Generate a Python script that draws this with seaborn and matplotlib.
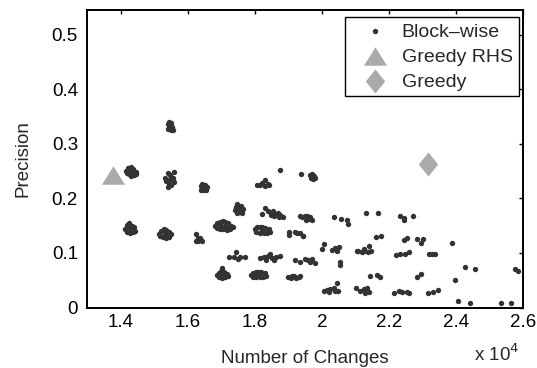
import matplotlib
matplotlib.use("Agg")
import matplotlib.pyplot as plt
import seaborn as sns
from matplotlib.ticker import FuncFormatter

sns.set_theme(style="white")
plt.rcParams["font.family"] = ["Liberation Sans", "DejaVu Sans"]

# ---- data ----
# Block-wise runs: (number of changes, precision)
blockwise_points = [
    # ~0.33
    (15400, 0.336), (15450, 0.340), (15510, 0.338), (15540, 0.331), (15480, 0.332),
    (15420, 0.327), (15500, 0.325), (15550, 0.326), (15440, 0.334),
    # ~0.25 at 1.43
    (14160, 0.250), (14220, 0.256), (14300, 0.257), (14380, 0.254), (14450, 0.249),
    (14400, 0.243), (14320, 0.241), (14240, 0.244), (14300, 0.249), (14180, 0.247), (14460, 0.245),
    # ~0.234 at 1.545
    (15330, 0.238), (15400, 0.246), (15460, 0.243), (15520, 0.236), (15580, 0.230),
    (15500, 0.224), (15430, 0.226), (15360, 0.231), (15450, 0.234), (15410, 0.221), (15560, 0.238),
    (15597, 0.249),
    # ~0.22 at 1.65
    (16390, 0.222), (16440, 0.227), (16520, 0.225), (16590, 0.221), (16480, 0.216),
    (16410, 0.215), (16550, 0.216), (16500, 0.221),
    # ~0.225 at 1.82
    (18066, 0.225), (18215, 0.228), (18295, 0.233), (18313, 0.222), (18433, 0.225),
    (18150, 0.224), (18380, 0.226),
    # top singles and blob near 1.97
    (18761, 0.252), (19388, 0.245),
    (19640, 0.243), (19700, 0.245), (19760, 0.241), (19720, 0.236), (19800, 0.237), (19660, 0.238),
    # ~0.18 at 1.75
    (17400, 0.178), (17430, 0.184), (17480, 0.189), (17540, 0.183), (17600, 0.186),
    (17660, 0.180), (17620, 0.174), (17540, 0.175), (17470, 0.173), (17580, 0.179),
    # ~0.172 at 1.86
    (18400, 0.176), (18470, 0.174), (18540, 0.177), (18600, 0.172), (18680, 0.174),
    (18760, 0.169), (18830, 0.166), (18560, 0.168), (18720, 0.165), (18480, 0.170),
    (18313, 0.183), (18215, 0.172),
    # ~0.164 at 1.96
    (19420, 0.166), (19490, 0.168), (19560, 0.167), (19620, 0.163), (19700, 0.160),
    (19540, 0.160), (19650, 0.166), (19358, 0.168),
    # sparse ~0.165 beyond 2.0
    (20373, 0.165), (20573, 0.162), (20752, 0.161), (20782, 0.153),
    (21319, 0.173), (21666, 0.173),
    (22313, 0.167), (22442, 0.161), (22711, 0.167), (22442, 0.164),
    # ~0.145 at 1.43
    (14140, 0.144), (14200, 0.152), (14260, 0.155), (14330, 0.150), (14410, 0.147),
    (14440, 0.141), (14370, 0.138), (14290, 0.137), (14200, 0.139), (14290, 0.145),
    # ~0.136 at 1.53
    (15140, 0.135), (15200, 0.141), (15280, 0.143), (15360, 0.142), (15450, 0.139),
    (15510, 0.134), (15450, 0.129), (15360, 0.128), (15260, 0.129), (15180, 0.131), (15330, 0.135),
    # ~0.126 at 1.63
    (16260, 0.134), (16300, 0.128), (16240, 0.122), (16340, 0.123), (16420, 0.121),
    (16380, 0.127), (16300, 0.121),
    # ~0.15 at 1.71
    (16820, 0.150), (16880, 0.155), (16960, 0.156), (17040, 0.158), (17120, 0.157),
    (17200, 0.154), (17300, 0.150), (17350, 0.147), (17260, 0.143), (17160, 0.142),
    (17060, 0.143), (16960, 0.144), (16880, 0.145), (17100, 0.150), (17000, 0.150), (17200, 0.148),
    # ~0.142 at 1.82
    (18000, 0.143), (18060, 0.147), (18140, 0.148), (18220, 0.148), (18300, 0.146),
    (18420, 0.143), (18460, 0.139), (18360, 0.137), (18260, 0.137), (18140, 0.137),
    (18050, 0.139), (18220, 0.142),
    # sparse ~0.136 at 1.92
    (19030, 0.139), (19188, 0.139), (19030, 0.133), (19259, 0.136), (19427, 0.131),
    (19358, 0.137), (19433, 0.131),
    # ~0.11 row beyond 2.0
    (20075, 0.117), (20006, 0.107), (20304, 0.106), (20403, 0.109), (20502, 0.110), (20453, 0.104),
    (21030, 0.104), (21089, 0.104), (21179, 0.102), (21268, 0.104), (21358, 0.101),
    (21448, 0.104), (21268, 0.108), (21388, 0.113),
    (21597, 0.129), (21746, 0.131),
    (22442, 0.124), (22542, 0.127), (22840, 0.125), (22940, 0.119), (23020, 0.125),
    (23886, 0.118),
    (22194, 0.096), (22323, 0.098), (22462, 0.098), (22592, 0.101),
    (23179, 0.098), (23278, 0.098), (23378, 0.098),
    # ~0.09 row
    (17218, 0.092), (17367, 0.093), (17439, 0.102), (17567, 0.092), (17716, 0.092), (17498, 0.088),
    (18164, 0.091), (18284, 0.093), (18403, 0.094), (18523, 0.091), (18642, 0.093),
    (18761, 0.094), (18463, 0.098), (18582, 0.087), (18343, 0.087),
    (19209, 0.087), (19358, 0.084), (19507, 0.088), (19597, 0.087), (19657, 0.084),
    (19716, 0.088), (19806, 0.082),
    (20552, 0.084), (20552, 0.078),
    # ~0.06 row
    (16860, 0.059), (16920, 0.064), (16980, 0.067), (17030, 0.072), (17080, 0.065),
    (17160, 0.062), (17200, 0.058), (17120, 0.055), (17020, 0.054), (16920, 0.055), (17040, 0.060),
    (17890, 0.060), (17950, 0.064), (18030, 0.065), (18100, 0.065), (18190, 0.065),
    (18300, 0.063), (18330, 0.058), (18240, 0.055), (18140, 0.055), (18040, 0.055),
    (17940, 0.056), (18120, 0.060),
    (19000, 0.056), (19080, 0.054), (19160, 0.057), (19240, 0.054), (19310, 0.056), (19100, 0.057),
    (19358, 0.057),
    (21418, 0.058), (21627, 0.060), (21726, 0.055),
    (22821, 0.055), (22940, 0.061),
    (23964, 0.050),
    (24254, 0.075), (24552, 0.071), (25746, 0.070), (25846, 0.067),
    # ~0.03 row
    (20055, 0.030), (20155, 0.032), (20254, 0.033), (20354, 0.035), (20453, 0.044),
    (20473, 0.031), (20200, 0.029), (20400, 0.030),
    (21021, 0.036), (21149, 0.031), (21248, 0.033), (21348, 0.035), (21398, 0.029), (21298, 0.027),
    (22144, 0.027), (22293, 0.030), (22393, 0.029), (22522, 0.029), (22592, 0.027),
    (23158, 0.027), (23308, 0.029), (23458, 0.032),
    # near zero
    (24045, 0.011), (24403, 0.008), (25349, 0.008), (25627, 0.008),
]
blockwise_changes = [p[0] for p in blockwise_points]
blockwise_precision = [p[1] for p in blockwise_points]

greedy_rhs_changes = [13776]
greedy_rhs_precision = [0.243]
greedy_changes = [23150]
greedy_precision = [0.263]

x_ticks = [14000, 16000, 18000, 20000, 22000, 24000, 26000]
y_ticks = [0, 0.1, 0.2, 0.3, 0.4, 0.5]

# ---- figure ----
fig = plt.figure(figsize=(5.37, 3.68), dpi=100)
ax = fig.add_axes([0.162, 0.1644, 0.8125, 0.8084])

dot_color = "#333333"
gray = "#aaaaaa"
tri = [(-1, -0.8), (1, -0.8), (0, 0.8)]
dia = [(0, 1), (0.8, 0), (0, -1), (-0.8, 0)]
fs = 13.5

sns.scatterplot(x=blockwise_changes, y=blockwise_precision, ax=ax, color=dot_color,
                s=15, linewidth=0, marker="o", label="Block\u2013wise", zorder=3)
sns.scatterplot(x=greedy_rhs_changes, y=greedy_rhs_precision, ax=ax, color=gray,
                s=275, linewidth=0, marker=tri, label="Greedy RHS", zorder=3)
sns.scatterplot(x=greedy_changes, y=greedy_precision, ax=ax, color=gray,
                s=300, linewidth=0, marker=dia, label="Greedy", zorder=3)

ax.set_xlim(13000, 26000)
ax.set_ylim(0, 0.545)
ax.set_xticks(x_ticks)
ax.set_yticks(y_ticks)
ax.xaxis.set_major_formatter(FuncFormatter(lambda v, p: f"{v/1e4:g}"))
ax.yaxis.set_major_formatter(FuncFormatter(lambda v, p: f"{v:g}"))

for sp in ax.spines.values():
    sp.set_color("black")
    sp.set_linewidth(1.4)
ax.tick_params(direction="in", length=3, width=1, top=True, right=True,
               labelsize=fs, colors="black")
ax.tick_params(axis="y", pad=6.5)
ax.tick_params(axis="x", pad=5)

ax.set_xlabel("Number of Changes", fontsize=fs, labelpad=13)
ax.set_ylabel("Precision", fontsize=fs, labelpad=14.5)
fig.text(497 / 537, 1 - 354 / 368, r"x 10$^{4}$", fontsize=fs, ha="center", va="center")

leg = ax.legend(loc="upper right", bbox_to_anchor=(0.989, 0.976), fontsize=14,
                frameon=True, fancybox=False, framealpha=1, edgecolor="black",
                handlelength=2.5, handletextpad=0.1, labelspacing=0.38,
                borderpad=0.3, borderaxespad=0)
leg.get_frame().set_linewidth(1.0)

fig.savefig("out.png", dpi=100)
